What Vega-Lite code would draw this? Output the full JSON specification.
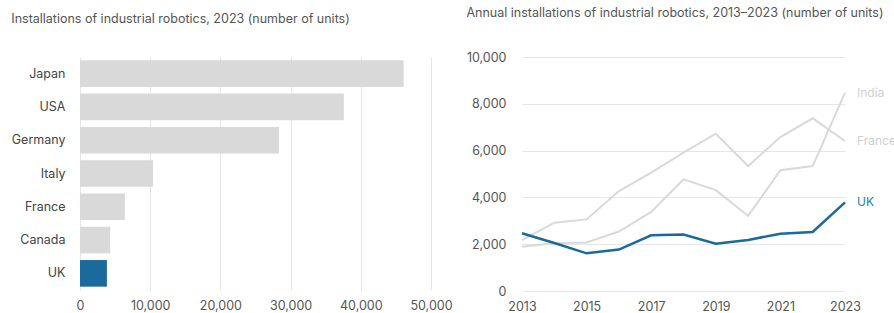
{
  "$schema": "https://vega.github.io/schema/vega-lite/v6.json",
  "padding": {"left": 11, "top": 6, "right": 0, "bottom": 0},
  "spacing": 13,
  "config": {
    "view": {"stroke": null},
    "font": "Inter",
    "title": {"anchor": "start", "font": "Inter", "fontSize": 12.5, "fontWeight": "normal", "color": "#555555", "offset": 32},
    "axis": {"labelFont": "Inter", "labelFontSize": 12.5, "labelColor": "#555555", "ticks": false, "domain": false, "gridColor": "#e6e6e6", "title": null, "labelFlush": false}
  },
  "hconcat": [
    {
      "width": 351,
      "height": 233,
      "title": "Installations of industrial robotics, 2023 (number of units)",
      "data": {"values": [
        {"country": "Japan", "units": 46106},
        {"country": "USA", "units": 37587},
        {"country": "Germany", "units": 28355},
        {"country": "Italy", "units": 10412},
        {"country": "France", "units": 6386},
        {"country": "Canada", "units": 4311},
        {"country": "UK", "units": 3830}
      ]},
      "mark": {"type": "bar"},
      "encoding": {
        "y": {"field": "country", "type": "nominal", "sort": null,
          "scale": {"paddingInner": 0.2, "paddingOuter": 0.1},
          "axis": {"labelPadding": 15, "labelColor": "#444444", "grid": false}},
        "x": {"field": "units", "type": "quantitative",
          "scale": {"domain": [0, 50000], "nice": false},
          "axis": {"values": [0, 10000, 20000, 30000, 40000, 50000], "format": ",d", "grid": true, "labelPadding": 9}},
        "color": {"condition": {"test": "datum.country === 'UK'", "value": "#1a6a9b"}, "value": "#d9d9d9"}
      }
    },
    {
      "width": 323,
      "height": 234,
      "title": "Annual installations of industrial robotics, 2013–2023 (number of units)",
      "data": {"values": [
        {"year": 2013, "country": "France", "units": 2170},
        {"year": 2014, "country": "France", "units": 2920},
        {"year": 2015, "country": "France", "units": 3060},
        {"year": 2016, "country": "France", "units": 4270},
        {"year": 2017, "country": "France", "units": 5060},
        {"year": 2018, "country": "France", "units": 5910},
        {"year": 2019, "country": "France", "units": 6720},
        {"year": 2020, "country": "France", "units": 5340},
        {"year": 2021, "country": "France", "units": 6580},
        {"year": 2022, "country": "France", "units": 7380},
        {"year": 2023, "country": "France", "units": 6410},
        {"year": 2013, "country": "India", "units": 1890},
        {"year": 2014, "country": "India", "units": 2040},
        {"year": 2015, "country": "India", "units": 2070},
        {"year": 2016, "country": "India", "units": 2540},
        {"year": 2017, "country": "India", "units": 3380},
        {"year": 2018, "country": "India", "units": 4770},
        {"year": 2019, "country": "India", "units": 4310},
        {"year": 2020, "country": "India", "units": 3210},
        {"year": 2021, "country": "India", "units": 5160},
        {"year": 2022, "country": "India", "units": 5340},
        {"year": 2023, "country": "India", "units": 8480},
        {"year": 2013, "country": "UK", "units": 2470},
        {"year": 2014, "country": "UK", "units": 2050},
        {"year": 2015, "country": "UK", "units": 1610},
        {"year": 2016, "country": "UK", "units": 1770},
        {"year": 2017, "country": "UK", "units": 2380},
        {"year": 2018, "country": "UK", "units": 2410},
        {"year": 2019, "country": "UK", "units": 2020},
        {"year": 2020, "country": "UK", "units": 2180},
        {"year": 2021, "country": "UK", "units": 2450},
        {"year": 2022, "country": "UK", "units": 2520},
        {"year": 2023, "country": "UK", "units": 3790}
      ]},
      "encoding": {
        "x": {"field": "year", "type": "quantitative",
          "scale": {"domain": [2013, 2023], "nice": false, "zero": false},
          "axis": {"values": [2013, 2015, 2017, 2019, 2021, 2023], "format": "d", "grid": false, "labelPadding": 9}},
        "y": {"field": "units", "type": "quantitative",
          "scale": {"domain": [0, 10000], "nice": false},
          "axis": {"values": [0, 2000, 4000, 6000, 8000, 10000], "format": ",d", "grid": true, "labelPadding": 16}}
      },
      "layer": [
        {
          "transform": [{"filter": "datum.country !== 'UK'"}],
          "mark": {"type": "line", "strokeWidth": 2, "color": "#d9d9d9"},
          "encoding": {"detail": {"field": "country"}}
        },
        {
          "transform": [{"filter": "datum.country === 'UK'"}],
          "mark": {"type": "line", "strokeWidth": 2.5, "color": "#1a6a9b"}
        },
        {
          "transform": [{"filter": "datum.year === 2023"}],
          "mark": {"type": "text", "align": "left", "dx": 12, "fontSize": 12, "baseline": "middle"},
          "encoding": {
            "text": {"field": "country"},
            "color": {"field": "country", "type": "nominal",
              "scale": {"domain": ["India", "France", "UK"], "range": ["#cfcfcf", "#cfcfcf", "#2a7ab0"]},
              "legend": null}
          }
        }
      ]
    }
  ]
}
